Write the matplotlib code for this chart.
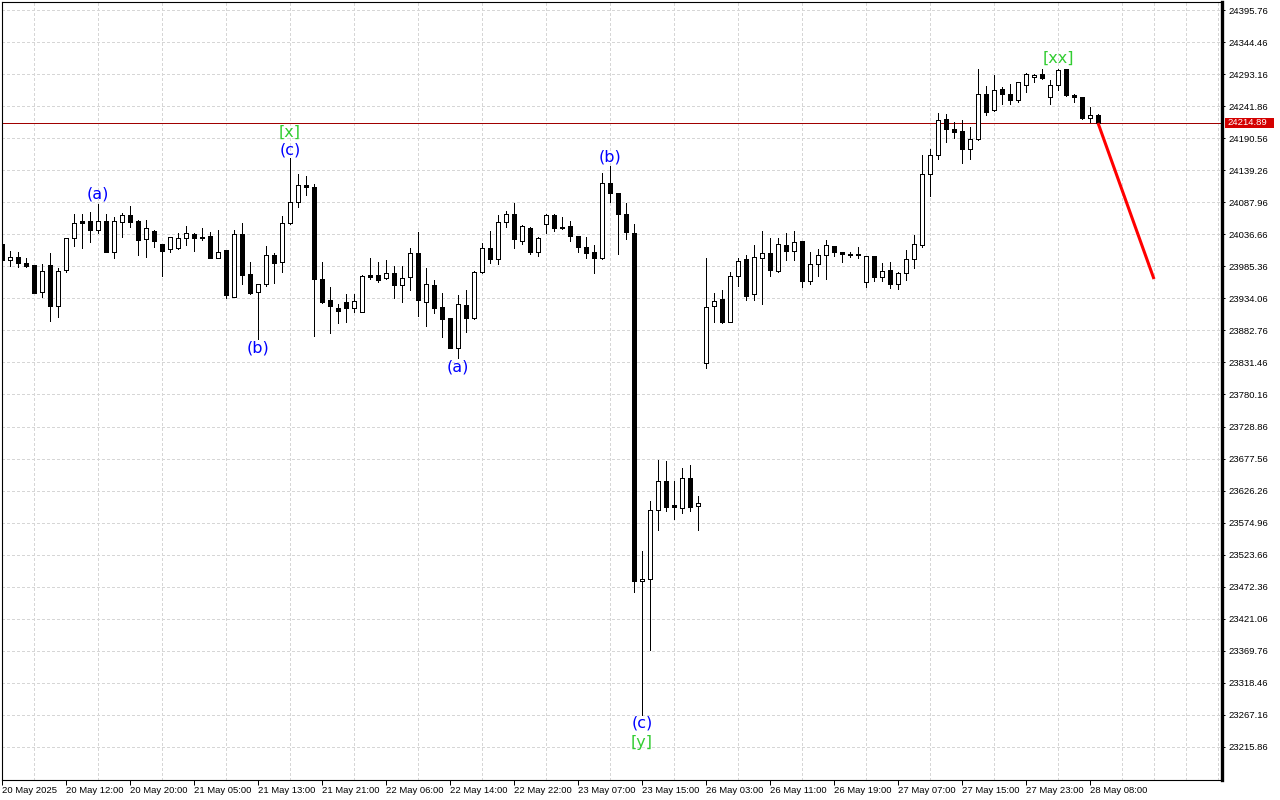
import matplotlib
matplotlib.use("Agg")
import matplotlib.pyplot as plt
from matplotlib.patches import Rectangle
from matplotlib.transforms import blended_transform_factory

# hourly candles, 20 May 2025 -> 28 May 2025
opens = [24021, 23995, 24000, 23991, 23988, 23944, 23988, 23922, 23979, 24030,
         24058, 24058, 24044, 24058, 24008, 24057, 24068, 24058, 24029, 24042,
         24021, 24013, 24015, 24030, 24037, 24030, 24034, 23999, 24012, 23937,
         24037, 23973, 23944, 23957, 24004, 23993, 24054, 24089, 24116, 24113,
         23965, 23931, 23919, 23929, 23918, 23913, 23972, 23972, 23966, 23974,
         23956, 23968, 24006, 23929, 23955, 23920, 23902, 23855, 23923, 23902,
         23976, 24014, 23997, 24056, 24069, 24026, 24046, 24009, 24053, 24068,
         24049, 24050, 24034, 24016, 24008, 23998, 24118, 24102, 24069, 24038,
         23481, 23484, 23596, 23642, 23603, 23599, 23646, 23601, 23830, 23922,
         23933, 23897, 23970, 23997, 23941, 23998, 24006, 23978, 24020, 24010,
         24026, 23962, 23989, 24003, 24018, 24008, 24005, 24005, 23960, 24002,
         23968, 23980, 23957, 23974, 23997, 24019, 24133, 24164, 24221, 24205,
         24202, 24174, 24189, 24262, 24235, 24269, 24262, 24251, 24275, 24288,
         24293, 24256, 24275, 24301, 24260, 24256, 24223, 24227]
highs = [24024, 24010, 24008, 23998, 23988, 23989, 24007, 23982, 24031, 24069,
         24069, 24073, 24085, 24069, 24064, 24070, 24082, 24060, 24060, 24044,
         24021, 24032, 24039, 24050, 24039, 24046, 24041, 24044, 24012, 24044,
         24055, 23993, 23957, 24018, 24006, 24066, 24159, 24133, 24130, 24117,
         23992, 23953, 23925, 23941, 23941, 23971, 23998, 23992, 23996, 23986,
         23986, 24015, 24041, 23983, 23963, 23942, 23902, 23939, 23947, 23978,
         24022, 24042, 24068, 24074, 24086, 24052, 24049, 24032, 24069, 24069,
         24065, 24058, 24034, 24032, 24020, 24135, 24146, 24102, 24086, 24053,
         23530, 23610, 23675, 23674, 23642, 23662, 23668, 23618, 23998, 23942,
         23947, 23977, 23998, 24004, 24020, 24042, 24030, 24030, 24038, 24042,
         24026, 24009, 24013, 24028, 24018, 24008, 24008, 24016, 24002, 24002,
         23991, 23992, 23977, 24012, 24036, 24164, 24173, 24231, 24229, 24216,
         24220, 24209, 24301, 24274, 24292, 24273, 24278, 24280, 24295, 24293,
         24302, 24284, 24302, 24302, 24262, 24256, 24241, 24230]
lows = [23992, 23986, 23985, 23985, 23942, 23937, 23898, 23905, 23976, 24018,
        24014, 24025, 24039, 24008, 23999, 24033, 24049, 24004, 24001, 24017,
        23970, 24009, 24013, 24020, 24010, 24028, 23998, 23998, 23934, 23936,
        23957, 23941, 23869, 23954, 23959, 23977, 24053, 24080, 24100, 23874,
        23926, 23879, 23895, 23897, 23912, 23912, 23965, 23961, 23965, 23934,
        23929, 23947, 23906, 23890, 23910, 23873, 23854, 23838, 23880, 23901,
        23975, 23991, 23989, 24049, 24014, 24021, 24005, 24002, 24038, 24042,
        24045, 24026, 24009, 23998, 23974, 23997, 24089, 24005, 24029, 23464,
        23267, 23371, 23563, 23594, 23581, 23591, 23594, 23563, 23822, 23897,
        23895, 23896, 23954, 23931, 23931, 23925, 23970, 23977, 23996, 23996,
        23953, 23957, 23970, 23965, 24002, 23993, 24001, 23998, 23952, 23962,
        23962, 23951, 23949, 23963, 23983, 24016, 24098, 24157, 24185, 24191,
        24151, 24157, 24188, 24228, 24234, 24246, 24245, 24249, 24265, 24281,
        24285, 24246, 24267, 24258, 24249, 24221, 24217, 24214]
closes = [23996, 24000, 23991, 23986, 23943, 23978, 23922, 23978, 24030, 24054,
          24055, 24044, 24058, 24008, 24058, 24068, 24057, 24028, 24046, 24026,
          24010, 24032, 24030, 24039, 24030, 24033, 23999, 24009, 23939, 24037,
          23971, 23943, 23957, 24003, 23991, 24054, 24088, 24116, 24112, 23965,
          23929, 23922, 23914, 23918, 23930, 23970, 23968, 23963, 23974, 23956,
          23966, 24006, 23931, 23957, 23919, 23901, 23855, 23925, 23903, 23976,
          24014, 23997, 24056, 24069, 24029, 24050, 24009, 24030, 24068, 24047,
          24047, 24034, 24016, 24006, 23998, 24118, 24102, 24069, 24040, 23482,
          23484, 23595, 23642, 23600, 23600, 23646, 23600, 23606, 23921, 23930,
          23897, 23970, 23994, 23938, 24000, 24007, 23980, 24021, 24010, 24025,
          23962, 23989, 24004, 24020, 24009, 24005, 24004, 24004, 24002, 23969,
          23978, 23957, 23974, 23997, 24021, 24133, 24163, 24219, 24205, 24201,
          24173, 24190, 24262, 24233, 24268, 24261, 24252, 24280, 24294, 24292,
          24287, 24276, 24299, 24259, 24256, 24223, 24227, 24214.89]

# x axis labels (every 8th bar)
tick_bars = [0, 8, 16, 24, 32, 40, 48, 56, 64, 72, 80, 88, 96, 104, 112, 120, 128, 136]
tick_labels = ["20 May 2025", "20 May 12:00", "20 May 20:00", "21 May 05:00", "21 May 13:00",
               "21 May 21:00", "22 May 06:00", "22 May 14:00", "22 May 22:00", "23 May 07:00",
               "23 May 15:00", "26 May 03:00", "26 May 11:00", "26 May 19:00", "27 May 07:00",
               "27 May 15:00", "27 May 23:00", "28 May 08:00"]

price_ticks = [24395.76, 24344.46, 24293.16, 24241.86, 24190.56, 24139.26, 24087.96, 24036.66,
               23985.36, 23934.06, 23882.76, 23831.46, 23780.16, 23728.86, 23677.56, 23626.26,
               23574.96, 23523.66, 23472.36, 23421.06, 23369.76, 23318.46, 23267.16, 23215.86]

# wave marks: bar, text, anchored at high or low, colour, offset in px
wave_bars = [12, 32, 36, 36, 57, 76, 80, 80, 132]
wave_text = ["(a)", "(b)", "(c)", "[x]", "(a)", "(b)", "(c)", "[y]", "[xx]"]
wave_side = ["high", "low", "high", "high", "low", "high", "low", "low", "high"]
wave_color = ["blue", "blue", "blue", "#32cd32", "blue", "blue", "blue", "#32cd32", "#32cd32"]
wave_off = [10, -9, 8, 26, -9, 9, -8, -28, 10]

# forecast line
proj_bars = [137, 144]
proj_prices = [24214.89, 23965]

plt.rcParams['font.family'] = ['Liberation Sans', 'DejaVu Sans']

PX = 0.72  # one pixel in points at dpi 100

fig = plt.figure(figsize=(12.8, 8), dpi=100)
fig.patch.set_facecolor("white")
ax = fig.add_axes([2 / 1280, 20 / 800, 1220 / 1280, 778 / 800])
ax.set_xlim(0, 152.5)
ax.set_ylim(23162.91, 24408.57)

# grid
ax.set_xticks(range(0, 153, 4), minor=True)
ax.set_yticks(price_ticks)
ax.set_yticklabels([f"{p:.2f}" for p in price_ticks])
ax.grid(which="minor", axis="x", color="#d6d6d6", lw=PX, dashes=(2.2, 2.2), antialiased=False)
ax.grid(which="major", axis="y", color="#d6d6d6", lw=PX, dashes=(2.2, 2.2), antialiased=False)
ax.set_axisbelow(True)

x = list(range(len(opens)))
body_bottom = [min(o, c) for o, c in zip(opens, closes)]
body_height = [abs(c - o) for o, c in zip(opens, closes)]
body_fill = ["white" if c >= o else "black" for o, c in zip(opens, closes)]

ax.vlines(x, lows, highs, color="black", lw=PX, zorder=2, antialiased=False)
ax.bar(x, body_height, bottom=body_bottom, width=0.6, color=body_fill,
       edgecolor="black", linewidth=PX, zorder=3, antialiased=False)

# last price line and label
last = closes[-1]
ax.axhline(last, color="#a00000", lw=PX, zorder=1, antialiased=False)
tr = blended_transform_factory(ax.transAxes, ax.transData)
ax.add_patch(Rectangle((1.0025, last - 8.5), 0.0402, 16.5, transform=tr,
                       facecolor="#d40000", edgecolor="none", clip_on=False, zorder=5))
ax.text(1.0045, last, f"{last:.2f}", transform=tr, color="white", fontsize=6.8,
        ha="left", va="center", clip_on=False, zorder=6)

# forecast
ax.plot(proj_bars, proj_prices, color="red", lw=2.2, solid_capstyle="butt", zorder=4)

# wave labels
for b, t, s, col, off in zip(wave_bars, wave_text, wave_side, wave_color, wave_off):
    y = highs[b] if s == "high" else lows[b]
    ax.annotate(t, (b, y), xytext=(0, off), textcoords="offset pixels",
                ha="center", va="center", color=col, fontsize=11.5,
                family="DejaVu Sans", zorder=6)

# axes styling
ax.set_xticks(tick_bars)
ax.set_xticklabels(tick_labels)
for lbl in ax.get_xticklabels():
    lbl.set_ha("left")
ax.yaxis.tick_right()
ax.tick_params(axis="x", which="major", direction="out", length=3.5, width=PX,
               pad=1, labelsize=6.8, colors="black")
ax.tick_params(axis="y", which="major", direction="out", length=2.5, width=PX,
               pad=2, labelsize=6.8, colors="black")
ax.tick_params(which="minor", length=0)
for side in ["left", "top", "bottom"]:
    ax.spines[side].set_linewidth(0.8)
ax.spines["right"].set_linewidth(2.4)

fig.savefig("out.png", dpi=100, facecolor="white")
